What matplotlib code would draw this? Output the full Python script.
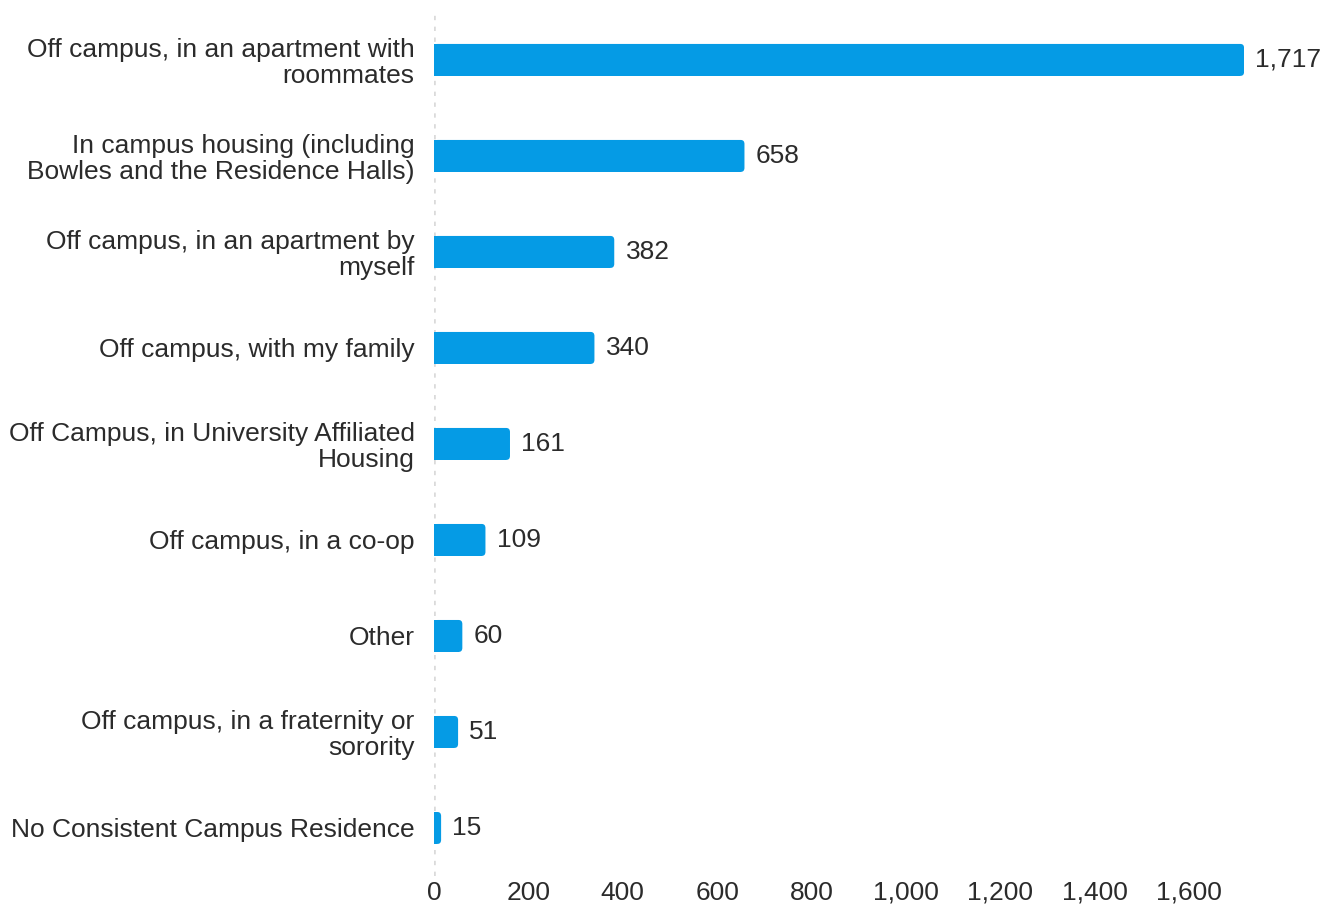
import matplotlib.pyplot as plt
from matplotlib.patches import FancyBboxPatch

# data
categories = [
    "Off campus, in an apartment with\nroommates",
    "In campus housing (including\nBowles and the Residence Halls)",
    "Off campus, in an apartment by\nmyself",
    "Off campus, with my family",
    "Off Campus, in University Affiliated\nHousing",
    "Off campus, in a co-op",
    "Other",
    "Off campus, in a fraternity or\nsorority",
    "No Consistent Campus Residence",
]
counts = [1717, 658, 382, 340, 161, 109, 60, 51, 15]
xticks = [0, 200, 400, 600, 800, 1000, 1200, 1400, 1600]

plt.rcParams['font.family'] = ['Liberation Sans', 'DejaVu Sans']
text_color = '#2b2b2b'
bar_color = '#059BE5'
fs = 19

fig = plt.figure(figsize=(13.33, 9.10), dpi=100)
ax = fig.add_axes([0.3256, 0.0374, 0.6077, 0.9495])
ax.set_ylim(len(categories) - 0.5, -0.5)
ax.set_xlim(0, 1717)

y = list(range(len(categories)))
bars = ax.barh(y, counts, height=0.333, color=bar_color)

# round the right end of each bar
rx = 8.0      # rounding in x data units (~4 px)
ry = 0.042    # rounding in y data units (~4 px)
for b in bars:
    x0, y0, w, h = b.get_x(), b.get_y(), b.get_width(), b.get_height()
    b.set_width(max(w - rx, 0))
    ax.add_patch(FancyBboxPatch((x0, y0), w, h,
                                boxstyle=f"round,pad=0,rounding_size={rx}",
                                mutation_aspect=ry / rx,
                                facecolor=bar_color, edgecolor='none'))

for yi, v in zip(y, counts):
    ax.text(v + 24, yi, f"{v:,}", va='center', ha='left', fontsize=fs, color=text_color)

ax.set_yticks(y)
ax.set_yticklabels(categories, fontsize=fs, color=text_color, ha='right', linespacing=1.1)
ax.set_xticks(xticks)
ax.set_xticklabels([f"{t:,}" for t in xticks], fontsize=fs, color=text_color, va='baseline')
ax.tick_params(axis='y', length=0, pad=14)
ax.tick_params(axis='x', length=0, pad=17)

for s in ax.spines.values():
    s.set_visible(False)
ax.axvline(0, color='#dadada', linestyle=(0, (1.2, 1.8)), linewidth=2.6, zorder=0)

fig.savefig('out.png', dpi=100)
